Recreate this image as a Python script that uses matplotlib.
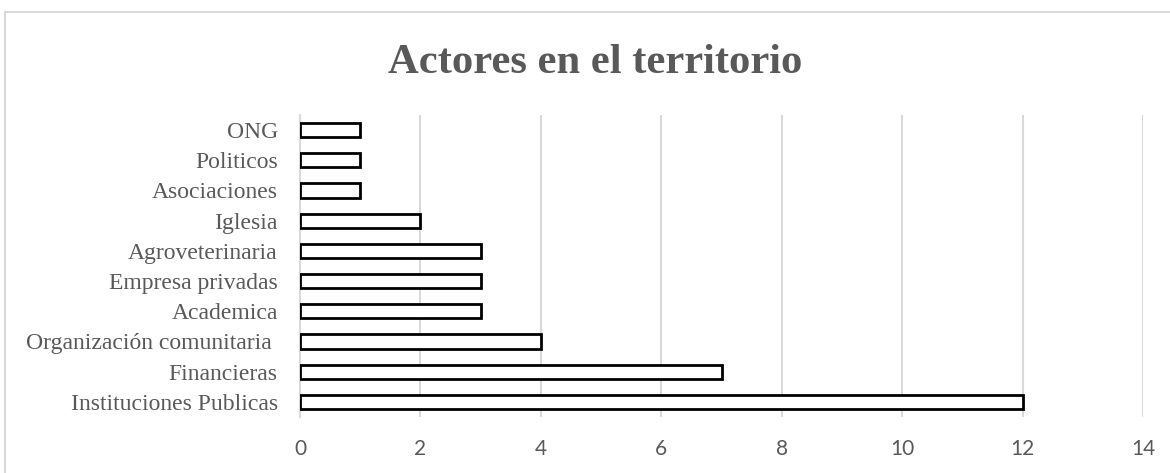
import matplotlib
matplotlib.use("Agg")
import matplotlib.pyplot as plt
from matplotlib.patches import Rectangle

categories = ["Instituciones Publicas", "Financieras", "Organización comunitaria ",
              "Academica", "Empresa privadas", "Agroveterinaria", "Iglesia",
              "Asociaciones", "Politicos", "ONG"]
values = [12, 7, 4, 3, 3, 3, 2, 1, 1, 1]
x_ticks = [0, 2, 4, 6, 8, 10, 12, 14]

TEXT = "#595959"
GRID = "#d9d9d9"

fig = plt.figure(figsize=(11.7, 4.73), dpi=100)
ax = fig.add_axes([300 / 1170, 56 / 473, 843 / 1170, 302 / 473])

ypos = list(range(len(categories)))
ax.barh(ypos, values, height=0.47, color="white", edgecolor="black", linewidth=2.0, zorder=3)

ax.set_xlim(0, 14)
ax.set_ylim(-0.5, len(categories) - 0.5)
ax.set_xticks(x_ticks)
ax.set_xticklabels([str(t) for t in x_ticks], fontfamily="Lato", fontsize=15, color=TEXT)
ax.set_yticks(ypos)
ax.set_yticklabels(categories, fontfamily="Liberation Serif", fontsize=17, color=TEXT)
ax.tick_params(axis="both", length=0)
ax.tick_params(axis="x", pad=16)
ax.tick_params(axis="y", pad=16)
ax.grid(axis="x", color=GRID, linewidth=1.5, zorder=0)
for s in ["top", "right", "bottom"]:
    ax.spines[s].set_visible(False)
ax.spines["left"].set_color(GRID)
ax.spines["left"].set_linewidth(1.5)

fig.text(595 / 1170, 1 - 73 / 473, "Actores en el territorio", ha="center", va="baseline",
         fontfamily="Liberation Serif", fontweight="bold", fontsize=30.7, color=TEXT)

# outer chart border
fig.patches.append(Rectangle((5 / 1170, -0.05), 1.2, 1 - 12 / 473 + 0.05,
                             transform=fig.transFigure, fill=False,
                             edgecolor=GRID, linewidth=1.5))

fig.savefig("out.png", dpi=100)
